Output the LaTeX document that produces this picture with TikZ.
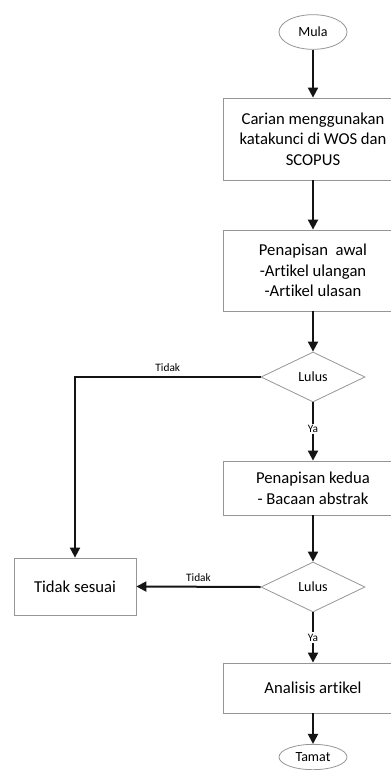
\documentclass[tikz,border=0pt]{standalone}
\usepackage{fontspec}
\setmainfont{Carlito}[Ligatures=NoCommon]
\usepackage{tikz}
\usetikzlibrary{positioning,arrows.meta,shapes.geometric}
\usepackage{xcolor}
\definecolor{boxline}{RGB}{150,150,150}
\definecolor{flowline}{RGB}{20,20,20}

\begin{document}
\begin{tikzpicture}[x=0.75pt,y=-0.75pt,
  procbox/.style={rectangle,draw=boxline,line width=0.6pt,fill=white,align=center,
    font=\fontsize{12.5}{15.5}\selectfont,minimum width=135pt,inner sep=2pt},
  endpoint/.style={ellipse,draw=boxline,line width=0.6pt,fill=white,inner sep=0pt,
    font=\fontsize{10.5}{12}\selectfont,minimum width=51pt},
  decision/.style={diamond,draw=boxline,line width=0.6pt,fill=white,inner sep=0pt,aspect=2,
    font=\fontsize{10.5}{12}\selectfont,minimum width=78pt,minimum height=37.5pt},
  flow/.style={draw=flowline,line width=1.5pt,-{Triangle[length=7.5pt,width=7.5pt]}},
  answer/.style={font=\fontsize{8.5}{9}\selectfont,inner sep=1pt}]
\useasboundingbox (0,0) rectangle (390,770);

% nodes
\node[endpoint,minimum height=26pt] (mula) at (313,32) {Mula};
\node[procbox,minimum height=61.5pt] (carian) at (313,139)
  {Carian menggunakan\\katakunci di WOS dan\\SCOPUS};
\node[procbox,minimum height=60.75pt] (awal) at (313,270.5)
  {Penapisan\ \ awal\\-Artikel ulangan\\-Artikel ulasan};
\node[decision] (lulusA) at (313,377) {Lulus};
\node[procbox,minimum height=40.5pt] (kedua) at (313,488)
  {Penapisan kedua\\- Bacaan abstrak};
\node[decision] (lulusB) at (313,587) {Lulus};
\node[procbox,minimum width=91.5pt,minimum height=42.75pt] (tidak) at (75,586.5) {Tidak sesuai};
\node[procbox,minimum height=37.5pt] (analisis) at (313,688) {Analisis artikel};
\node[endpoint,minimum height=19pt] (tamat) at (313,757) {Tamat};

% connectors
\draw[flow] (mula) -- (carian);
\draw[flow] (carian) -- (awal);
\draw[flow] (awal) -- (lulusA);
\draw[flow] (lulusA) -- node[answer,fill=white,pos=0.45] {Ya} (kedua);
\draw[flow] (lulusA.west) -| node[answer,above,pos=0.25,yshift=2pt] {Tidak} (tidak.north);
\draw[flow] (kedua) -- (lulusB);
\draw[flow] (lulusB.west) -- node[answer,above,yshift=2pt] {Tidak} (tidak.east);
\draw[flow] (lulusB) -- node[answer,fill=white] {Ya} (analisis);
\draw[flow] (analisis) -- (tamat);
\end{tikzpicture}
\end{document}
